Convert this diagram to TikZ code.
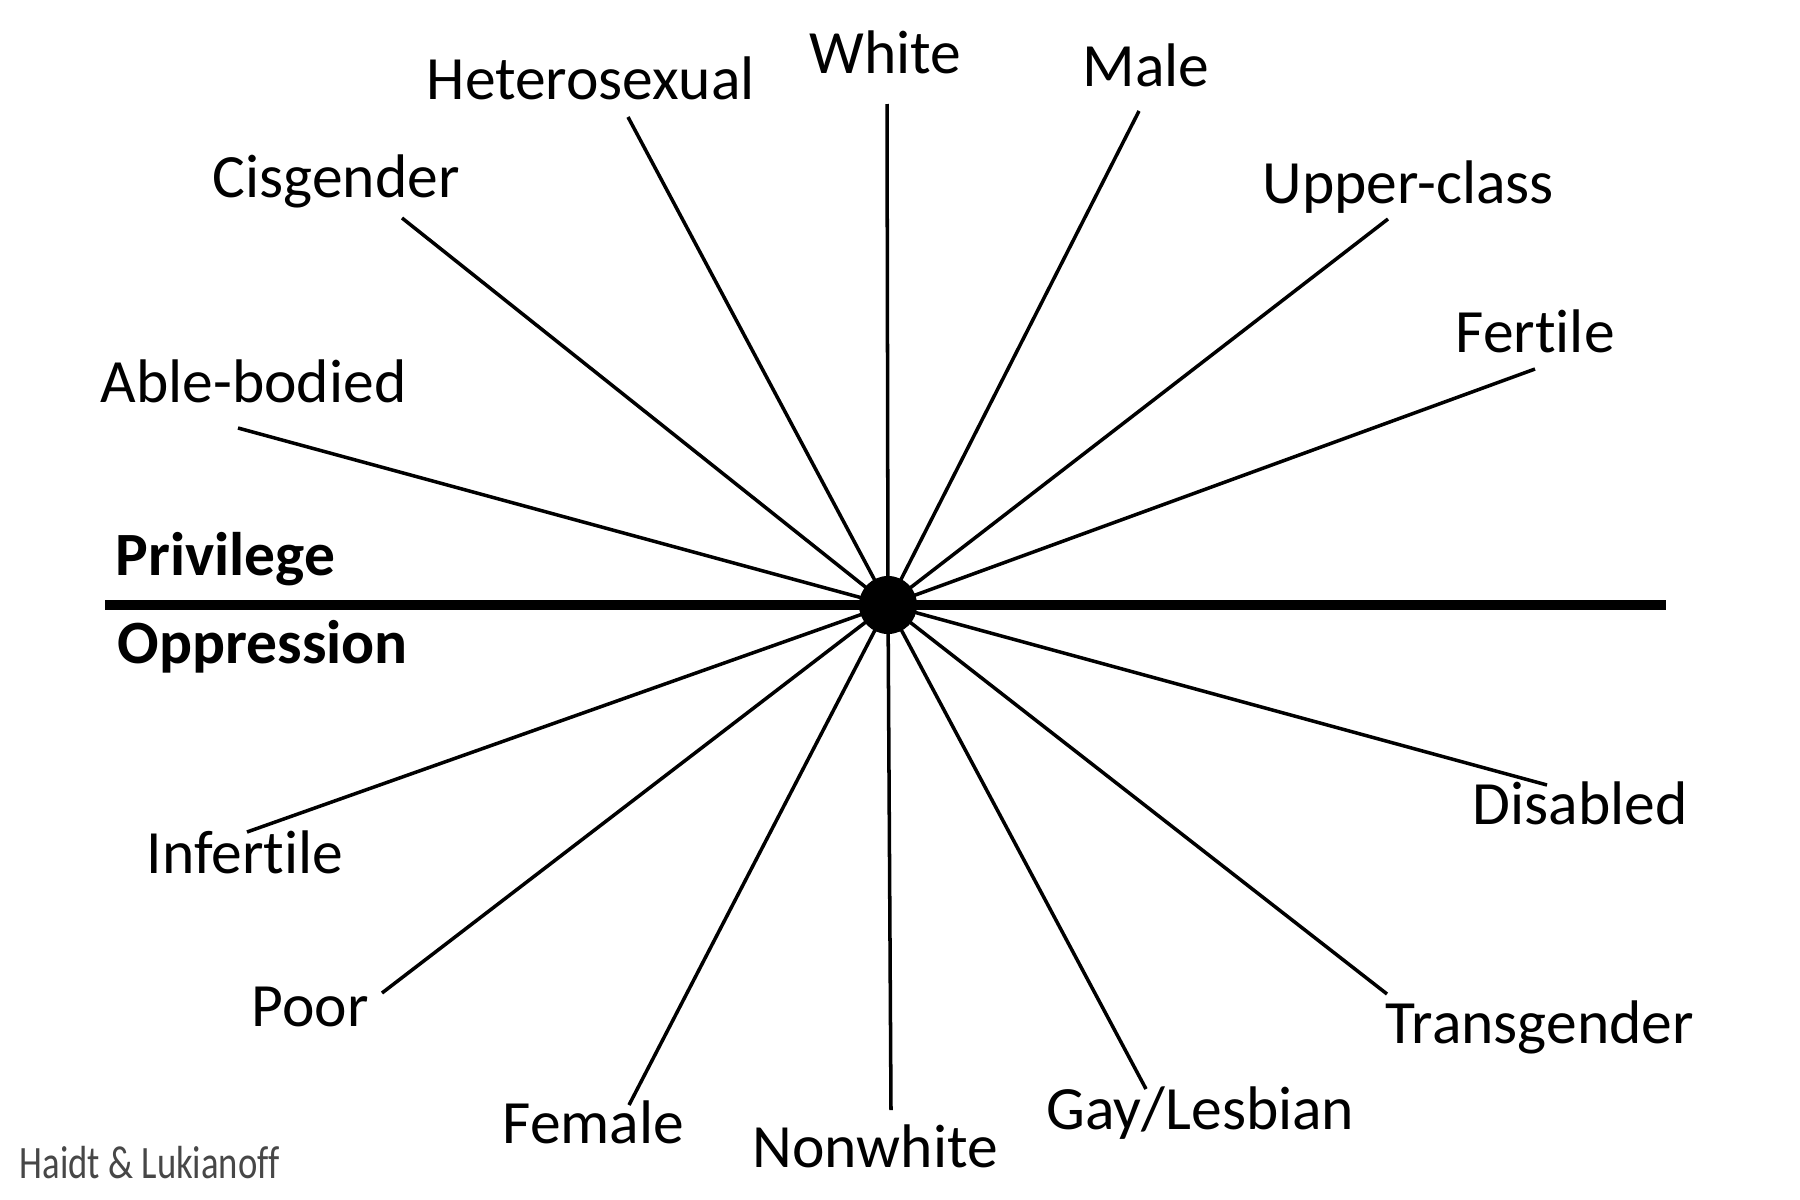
\documentclass[tikz,border=0pt]{standalone}
\usepackage{fontspec}
\setmainfont{Carlito}[RawFeature={-liga;-clig;-calt;-dlig}]
\newfontfamily\credfont[FakeStretch=0.79,RawFeature={-liga;-clig;-calt;-dlig}]{Carlito}
\tikzset{
  lbl/.style={anchor=base west,inner sep=0pt,font=\fontsize{17.5}{20}\selectfont},
  side/.style={lbl,font=\fontsize{17.5}{20}\selectfont\bfseries},
  spoke/.style={line width=1pt}
}
\begin{document}
\begin{tikzpicture}[x=0.01cm,y=-0.01cm]
        \useasboundingbox (0,0) rectangle (1800,1200);
        \coordinate (mid) at (888,605);
        % axis
        \coordinate (axl) at (105,605);
        \coordinate (axr) at (1666,605);
        \draw[line width=2.6pt] (axl) -- (axr);
        \node[side] (priv) at (115,575) {Privilege};
        \node[side] (oppr) at (117,663) {Oppression};
        % spoke ends
        \coordinate (eWhite) at (887,104);
        \coordinate (eHetero) at (628,117);
        \coordinate (eMale) at (1139,111);
        \coordinate (eCis) at (402,218);
        \coordinate (eUpper) at (1388,219);
        \coordinate (eFertile) at (1535,369);
        \coordinate (eAble) at (238,428);
        \coordinate (eInfertile) at (247,832);
        \coordinate (ePoor) at (382,993);
        \coordinate (eFemale) at (629,1105);
        \coordinate (eNonwhite) at (891,1110);
        \coordinate (eGay) at (1146,1089);
        \coordinate (eTrans) at (1387,994);
        \coordinate (eDisabled) at (1547,785);
        \foreach \e in {White,Hetero,Male,Cis,Upper,Fertile,Able,Infertile,Poor,Female,Nonwhite,Gay,Trans,Disabled}
            \draw[spoke] (mid) -- (e\e);
        \node[circle,fill=black,minimum size=0.58cm,inner sep=0pt] (dot) at (mid) {};
        % labels
        \node[lbl] (white) at (809,73) {White};
        \node[lbl] (hetero) at (426,99) {Heterosexual};
        \node[lbl] (male) at (1082,87) {Male};
        \node[lbl] (cis) at (212,197) {Cisgender};
        \node[lbl] (upper) at (1262,203) {Upper-class};
        \node[lbl] (fertile) at (1455,352) {Fertile};
        \node[lbl] (able) at (100,402) {Able-bodied};
        \node[lbl] (infertile) at (146,873) {Infertile};
        \node[lbl] (poor) at (251,1026) {Poor};
        \node[lbl] (female) at (502,1143) {Female};
        \node[lbl] (nonwhite) at (752,1167) {Nonwhite};
        \node[lbl] (gay) at (1046,1129) {Gay/Lesbian};
        \node[lbl] (trans) at (1385,1043) {Transgender};
        \node[lbl] (disabled) at (1472,824) {Disabled};
        \node[anchor=base west,inner sep=0pt,text=black!72,font=\credfont\fontsize{13.2}{15}\selectfont] (credit) at (19,1178) {Haidt \& Lukianoff};
    \end{tikzpicture}
\end{document}
